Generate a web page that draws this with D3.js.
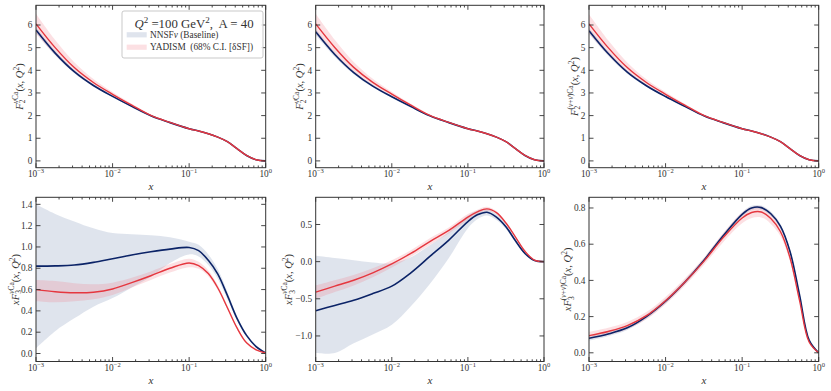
<!DOCTYPE html>
<html>
<head>
<meta charset="utf-8">
<script src="https://cdn.jsdelivr.net/npm/d3@7"></script>
<style>
  body { margin: 0; background: #fff; }
  text { font-family: "Liberation Serif", "DejaVu Serif", serif; fill: #333; white-space: pre; }
</style>
</head>
<body>
<script>
// x grid (log spaced)
const xs = [0.001, 0.00178, 0.00316, 0.00562, 0.01, 0.0178, 0.0316, 0.0562, 0.1, 0.133, 0.178, 0.237, 0.316, 0.422, 0.562, 0.75, 1.0];

// F2 nu Ca
const f2nu_nnsf    = [5.78, 4.76, 3.94, 3.33, 2.85, 2.41, 1.99, 1.69, 1.42, 1.32, 1.20, 1.05, 0.85, 0.54, 0.24, 0.05, 0.0];
const f2nu_nnsf_lo = [5.65, 4.66, 3.87, 3.28, 2.81, 2.38, 1.97, 1.67, 1.40, 1.30, 1.18, 1.03, 0.83, 0.53, 0.23, 0.045, 0.0];
const f2nu_nnsf_hi = [5.91, 4.86, 4.01, 3.38, 2.89, 2.44, 2.01, 1.71, 1.44, 1.34, 1.22, 1.07, 0.87, 0.55, 0.25, 0.055, 0.0];
const f2nu_yad     = [6.05, 5.00, 4.12, 3.46, 2.94, 2.46, 2.01, 1.70, 1.42, 1.32, 1.20, 1.05, 0.85, 0.54, 0.24, 0.05, 0.0];
const f2nu_yad_lo  = [5.62, 4.68, 3.89, 3.30, 2.84, 2.40, 1.97, 1.67, 1.40, 1.30, 1.18, 1.03, 0.83, 0.53, 0.23, 0.045, 0.0];
const f2nu_yad_hi  = [6.50, 5.34, 4.36, 3.62, 3.04, 2.52, 2.05, 1.73, 1.45, 1.35, 1.22, 1.07, 0.87, 0.55, 0.25, 0.055, 0.0];

// F2 nubar Ca
const f2nb_nnsf    = [5.70, 4.70, 3.90, 3.30, 2.83, 2.40, 1.99, 1.69, 1.42, 1.32, 1.20, 1.05, 0.85, 0.54, 0.24, 0.05, 0.0];
const f2nb_nnsf_lo = [5.56, 4.60, 3.83, 3.25, 2.79, 2.37, 1.97, 1.67, 1.40, 1.30, 1.18, 1.03, 0.83, 0.53, 0.23, 0.045, 0.0];
const f2nb_nnsf_hi = [5.84, 4.80, 3.97, 3.35, 2.87, 2.43, 2.01, 1.71, 1.44, 1.34, 1.22, 1.07, 0.87, 0.55, 0.25, 0.055, 0.0];
const f2nb_yad     = [6.05, 5.01, 4.13, 3.47, 2.95, 2.46, 2.01, 1.70, 1.42, 1.32, 1.20, 1.05, 0.85, 0.54, 0.24, 0.05, 0.0];
const f2nb_yad_lo  = [5.62, 4.69, 3.90, 3.31, 2.85, 2.40, 1.97, 1.67, 1.40, 1.30, 1.18, 1.03, 0.83, 0.53, 0.23, 0.045, 0.0];
const f2nb_yad_hi  = [6.50, 5.35, 4.37, 3.63, 3.05, 2.52, 2.05, 1.73, 1.45, 1.35, 1.22, 1.07, 0.87, 0.55, 0.25, 0.055, 0.0];

// F2 (nu+nubar) Ca
const f2nn_nnsf    = [5.75, 4.74, 3.92, 3.32, 2.84, 2.41, 1.99, 1.69, 1.42, 1.32, 1.20, 1.05, 0.85, 0.54, 0.24, 0.05, 0.0];
const f2nn_nnsf_lo = [5.61, 4.64, 3.85, 3.27, 2.80, 2.38, 1.97, 1.67, 1.40, 1.30, 1.18, 1.03, 0.83, 0.53, 0.23, 0.045, 0.0];
const f2nn_nnsf_hi = [5.88, 4.84, 3.99, 3.37, 2.88, 2.44, 2.01, 1.71, 1.44, 1.34, 1.22, 1.07, 0.87, 0.55, 0.25, 0.055, 0.0];
const f2nn_yad     = [6.05, 5.00, 4.12, 3.46, 2.94, 2.46, 2.01, 1.70, 1.42, 1.32, 1.20, 1.05, 0.85, 0.54, 0.24, 0.05, 0.0];
const f2nn_yad_lo  = [5.62, 4.68, 3.89, 3.30, 2.84, 2.40, 1.97, 1.67, 1.40, 1.30, 1.18, 1.03, 0.83, 0.53, 0.23, 0.045, 0.0];
const f2nn_yad_hi  = [6.48, 5.33, 4.35, 3.61, 3.04, 2.52, 2.05, 1.73, 1.45, 1.35, 1.22, 1.07, 0.87, 0.55, 0.25, 0.055, 0.0];

// xF3 nu Ca
const xf3nu_nnsf    = [0.82, 0.822, 0.83, 0.855, 0.89, 0.925, 0.955, 0.98, 0.995, 0.965, 0.875, 0.745, 0.545, 0.33, 0.17, 0.065, 0.005];
const xf3nu_nnsf_lo = [0.05, 0.21, 0.33, 0.44, 0.52, 0.62, 0.72, 0.85, 0.93, 0.91, 0.83, 0.70, 0.51, 0.31, 0.155, 0.055, 0.0];
const xf3nu_nnsf_hi = [1.40, 1.31, 1.24, 1.175, 1.13, 1.12, 1.11, 1.09, 1.05, 1.02, 0.93, 0.79, 0.58, 0.35, 0.185, 0.075, 0.01];
const xf3nu_yad     = [0.60, 0.58, 0.57, 0.575, 0.605, 0.665, 0.73, 0.80, 0.85, 0.825, 0.75, 0.615, 0.43, 0.24, 0.10, 0.035, 0.005];
const xf3nu_yad_lo  = [0.49, 0.48, 0.49, 0.51, 0.55, 0.62, 0.69, 0.76, 0.81, 0.795, 0.725, 0.595, 0.415, 0.23, 0.095, 0.03, 0.0];
const xf3nu_yad_hi  = [0.69, 0.68, 0.66, 0.65, 0.665, 0.71, 0.77, 0.84, 0.89, 0.86, 0.78, 0.64, 0.45, 0.25, 0.105, 0.04, 0.01];

// xF3 nubar Ca
const xf3nb_nnsf    = [-0.66, -0.59, -0.52, -0.43, -0.33, -0.15, 0.07, 0.29, 0.54, 0.63, 0.665, 0.60, 0.47, 0.28, 0.11, 0.015, 0.0];
const xf3nb_nnsf_lo = [-1.23, -1.23, -1.10, -0.98, -0.85, -0.60, -0.30, 0.05, 0.45, 0.57, 0.62, 0.56, 0.44, 0.26, 0.10, 0.01, 0.0];
const xf3nb_nnsf_hi = [0.08, 0.05, 0.02, -0.01, -0.02, 0.06, 0.22, 0.40, 0.62, 0.69, 0.71, 0.64, 0.50, 0.30, 0.12, 0.02, 0.0];
const xf3nb_yad     = [-0.41, -0.33, -0.25, -0.15, -0.03, 0.11, 0.27, 0.42, 0.60, 0.67, 0.71, 0.66, 0.52, 0.33, 0.14, 0.02, 0.0];
const xf3nb_yad_lo  = [-0.50, -0.41, -0.32, -0.21, -0.08, 0.065, 0.225, 0.38, 0.56, 0.64, 0.68, 0.64, 0.505, 0.32, 0.13, 0.015, -0.005];
const xf3nb_yad_hi  = [-0.32, -0.25, -0.18, -0.09, 0.02, 0.155, 0.315, 0.46, 0.64, 0.70, 0.74, 0.68, 0.535, 0.34, 0.15, 0.025, 0.005];

// xF3 (nu+nubar) Ca
const xf3nn_nnsf    = [0.08, 0.104, 0.138, 0.20, 0.285, 0.39, 0.51, 0.645, 0.765, 0.80, 0.802, 0.768, 0.70, 0.56, 0.32, 0.07, 0.0];
const xf3nn_nnsf_lo = [0.068, 0.092, 0.126, 0.188, 0.273, 0.378, 0.498, 0.633, 0.753, 0.788, 0.79, 0.756, 0.688, 0.55, 0.31, 0.065, 0.0];
const xf3nn_nnsf_hi = [0.092, 0.116, 0.150, 0.212, 0.297, 0.402, 0.522, 0.657, 0.777, 0.812, 0.814, 0.78, 0.712, 0.57, 0.33, 0.075, 0.0];
const xf3nn_yad     = [0.095, 0.118, 0.15, 0.205, 0.288, 0.39, 0.505, 0.635, 0.745, 0.775, 0.778, 0.742, 0.67, 0.525, 0.29, 0.06, 0.0];
const xf3nn_yad_lo  = [0.075, 0.098, 0.13, 0.185, 0.268, 0.37, 0.485, 0.61, 0.715, 0.745, 0.748, 0.712, 0.645, 0.505, 0.28, 0.055, 0.0];
const xf3nn_yad_hi  = [0.115, 0.138, 0.17, 0.225, 0.308, 0.41, 0.525, 0.66, 0.775, 0.805, 0.808, 0.772, 0.695, 0.545, 0.30, 0.065, 0.0];

const xMajor = [1e-3, 1e-2, 1e-1, 1];
const xMajorExp = ["\u22123", "\u22122", "\u22121", "0"];

const f2Ticks = [0, 1, 2, 3, 4, 5, 6];
const xf3nuTicks = [0.0, 0.2, 0.4, 0.6, 0.8, 1.0, 1.2, 1.4];
const xf3nbTicks = [-1.0, -0.5, 0.0, 0.5];
const xf3nnTicks = [0.0, 0.2, 0.4, 0.6, 0.8];

const cols = [[36, 265.7], [315.7, 544], [589, 818.7]];
const rows = [[5.3, 167.7], [197.3, 361.5]];

const blueLine = "#0b2367", redLine = "#e5373f";
const blueFill = "#7f93b8", redFill = "#f07080";

const nu = ["\u03bd", {i: 1}];
const nub = ["\u03bd\u0304", {i: 1}];

const panels = [
  {c: 0, r: 0, dom: [-0.3, 6.87], ticks: f2Ticks, fmt: d3.format("d"), pre: "", sub: "2",
   sup: [nu, ["Ca"]], lx: 17, series: [f2nu_nnsf, f2nu_nnsf_lo, f2nu_nnsf_hi, f2nu_yad, f2nu_yad_lo, f2nu_yad_hi]},
  {c: 1, r: 0, dom: [-0.3, 6.87], ticks: f2Ticks, fmt: d3.format("d"), pre: "", sub: "2",
   sup: [nub, ["Ca"]], lx: 16, series: [f2nb_nnsf, f2nb_nnsf_lo, f2nb_nnsf_hi, f2nb_yad, f2nb_yad_lo, f2nb_yad_hi]},
  {c: 2, r: 0, dom: [-0.3, 6.87], ticks: f2Ticks, fmt: d3.format("d"), pre: "", sub: "2",
   sup: [["("], nu, ["+"], nub, [")Ca"]], lx: 15, series: [f2nn_nnsf, f2nn_nnsf_lo, f2nn_nnsf_hi, f2nn_yad, f2nn_yad_lo, f2nn_yad_hi]},
  {c: 0, r: 1, dom: [-0.075, 1.466], ticks: xf3nuTicks, fmt: d3.format(".1f"), pre: "x", sub: "3",
   sup: [nu, ["Ca"]], lx: 21, series: [xf3nu_nnsf, xf3nu_nnsf_lo, xf3nu_nnsf_hi, xf3nu_yad, xf3nu_yad_lo, xf3nu_yad_hi]},
  {c: 1, r: 1, dom: [-1.344, 0.866], ticks: xf3nbTicks, fmt: d => d3.format(".1f")(d).replace("-", "\u2212"), pre: "x", sub: "3",
   sup: [nub, ["Ca"]], lx: 27.5, series: [xf3nb_nnsf, xf3nb_nnsf_lo, xf3nb_nnsf_hi, xf3nb_yad, xf3nb_yad_lo, xf3nb_yad_hi]},
  {c: 2, r: 1, dom: [-0.048, 0.859], ticks: xf3nnTicks, fmt: d3.format(".1f"), pre: "x", sub: "3",
   sup: [["("], nu, ["+"], nub, [")Ca"]], lx: 21.5, series: [xf3nn_nnsf, xf3nn_nnsf_lo, xf3nn_nnsf_hi, xf3nn_yad, xf3nn_yad_lo, xf3nn_yad_hi]}
];

const svg = d3.select("body").append("svg").attr("width", 831).attr("height", 391);

// write mixed-style text as tspans
function rich(t, segs) {
  segs.forEach(([str, o]) => {
    o = o || {};
    const s = t.append("tspan").text(str);
    if (o.i) s.style("font-style", "italic");
    if (o.s) s.style("font-size", o.s + "px");
    if (o.dx) s.attr("dx", o.dx);
    if (o.dy) s.attr("dy", o.dy);
  });
  return t;
}

const curve = d3.curveCatmullRom.alpha(0.5);

panels.forEach((p, k) => {
  const [x0, x1] = cols[p.c], [y0, y1] = rows[p.r];
  const x = d3.scaleLog().domain([1e-3, 1]).range([x0, x1]);
  const y = d3.scaleLinear().domain(p.dom).range([y1, y0]);
  const g = svg.append("g");

  g.append("clipPath").attr("id", "clip" + k).append("rect")
    .attr("x", x0).attr("y", y0).attr("width", x1 - x0).attr("height", y1 - y0);
  const plot = g.append("g").attr("clip-path", `url(#clip${k})`);

  const [bc, bl, bh, rc, rl, rh] = p.series;
  const area = (lo, hi) => d3.area().curve(curve)
    .x((d, i) => x(xs[i])).y0((d, i) => y(lo[i])).y1((d, i) => y(hi[i]))(xs);
  const line = v => d3.line().curve(curve)
    .x((d, i) => x(xs[i])).y((d, i) => y(v[i]))(xs);

  plot.append("path").attr("d", area(bl, bh)).attr("fill", blueFill).attr("fill-opacity", 0.25);
  plot.append("path").attr("d", area(rl, rh)).attr("fill", redFill).attr("fill-opacity", 0.22);
  plot.append("path").attr("d", line(bc)).attr("fill", "none").attr("stroke", blueLine).attr("stroke-width", 1.6);
  plot.append("path").attr("d", line(rc)).attr("fill", "none").attr("stroke", redLine).attr("stroke-width", 1.4);

  // ticks, inward on all sides
  const ax = g.append("g").attr("stroke", "#333").attr("stroke-width", 0.9);
  const minors = [];
  for (let e = -3; e < 0; e++) for (let m = 2; m <= 9; m++) minors.push(m * Math.pow(10, e));
  minors.forEach(v => {
    ax.append("line").attr("x1", x(v)).attr("x2", x(v)).attr("y1", y1).attr("y2", y1 - 2.2);
    ax.append("line").attr("x1", x(v)).attr("x2", x(v)).attr("y1", y0).attr("y2", y0 + 2.2);
  });
  xMajor.forEach(v => {
    ax.append("line").attr("x1", x(v)).attr("x2", x(v)).attr("y1", y1).attr("y2", y1 - 4.5);
    ax.append("line").attr("x1", x(v)).attr("x2", x(v)).attr("y1", y0).attr("y2", y0 + 4.5);
  });
  p.ticks.forEach(v => {
    ax.append("line").attr("x1", x0).attr("x2", x0 + 4.5).attr("y1", y(v)).attr("y2", y(v));
    ax.append("line").attr("x1", x1).attr("x2", x1 - 4.5).attr("y1", y(v)).attr("y2", y(v));
  });
  g.append("rect").attr("x", x0).attr("y", y0).attr("width", x1 - x0).attr("height", y1 - y0)
    .attr("fill", "none").attr("stroke", "#333").attr("stroke-width", 1);

  // tick labels
  xMajor.forEach((v, i) => {
    rich(g.append("text").attr("x", x(v)).attr("y", y1 + 9.5).attr("text-anchor", "middle").style("font-size", "9.3px"),
      [["10"], [xMajorExp[i], {s: 6.5, dy: -3.8}]]);
  });
  p.ticks.forEach(v => {
    g.append("text").attr("x", x0 - 3.5).attr("y", y(v) + 3.2).attr("text-anchor", "end")
      .style("font-size", "9.3px").text(p.fmt(v));
  });

  // axis titles
  g.append("text").attr("x", (x0 + x1) / 2).attr("y", y1 + 22.5).attr("text-anchor", "middle")
    .style("font-size", "11px").style("font-style", "italic").text("x");

  const segs = [];
  if (p.pre) segs.push([p.pre, {i: 1}]);
  segs.push(["F", {i: 1}]);
  segs.push([p.sub, {s: 7.5, dy: 2.8}]);
  p.sup.forEach((s, j) => segs.push([s[0], Object.assign({s: 7.5}, s[1] || {}, j === 0 ? {dx: -3.8, dy: -7.5} : {})]));
  segs.push(["(", {dy: 4.7}], ["x", {i: 1}], [", "], ["Q", {i: 1}], ["2", {s: 7.5, dy: -4}], [")", {dy: 4}]);
  rich(g.append("text").attr("transform", `translate(${x0 - p.lx + 3.5},${(y0 + y1) / 2}) rotate(-90)`)
    .attr("text-anchor", "middle").style("font-size", "10.5px"), segs);
});

// legend
const lg = svg.append("g");
lg.append("rect").attr("x", 122).attr("y", 11).attr("width", 141).attr("height", 47).attr("rx", 2)
  .attr("fill", "#fff").attr("fill-opacity", 0.85).attr("stroke", "#bbb").attr("stroke-width", 0.8);
rich(lg.append("text").attr("x", 194).attr("y", 28).attr("text-anchor", "middle").style("font-size", "12.8px"),
  [["Q", {i: 1}], ["2", {s: 9, dy: -5}], [" =100 GeV", {dy: 5}], ["2", {s: 9, dy: -5}], [",  A = 40", {dy: 5}]]);
const legendItems = [
  {fill: blueFill, op: 0.25, y: 34.8, segs: [["NNSF"], ["\u03bd", {i: 1}], [" (Baseline)"]]},
  {fill: redFill, op: 0.22, y: 47.2, segs: [["YADISM  (68% C.I. [\u03b4SF])"]]}
];
legendItems.forEach(d => {
  lg.append("rect").attr("x", 126.7).attr("y", d.y - 2.6).attr("width", 20).attr("height", 5.2)
    .attr("fill", d.fill).attr("fill-opacity", d.op);
  rich(lg.append("text").attr("x", 150).attr("y", d.y + 3).style("font-size", "9.3px"), d.segs);
});
</script>
</body>
</html>
